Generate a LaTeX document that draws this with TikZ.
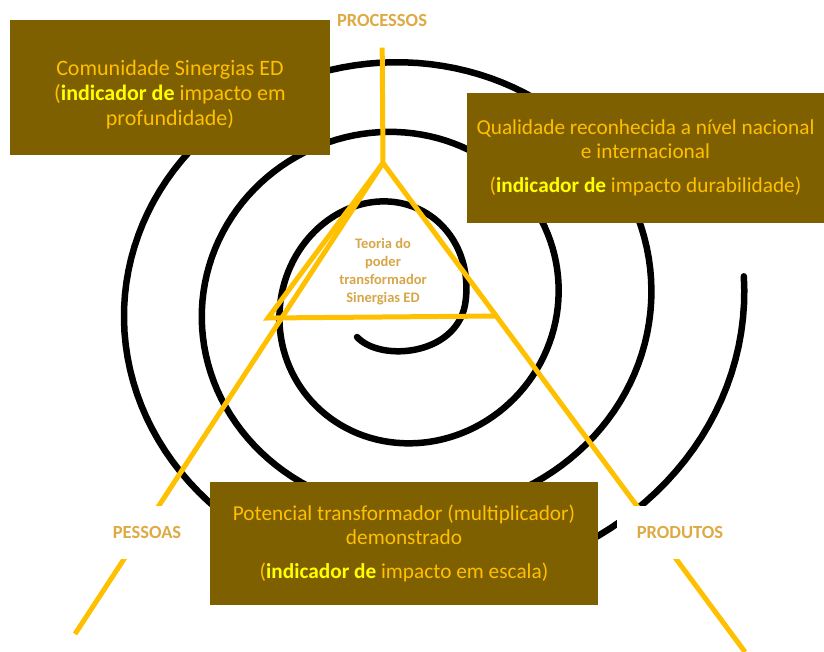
\documentclass[tikz,border=0pt]{standalone}
\usepackage{fontspec}
\setmainfont{Carlito}
\usepackage{tikz}

\definecolor{oliva}{RGB}{127,96,0}
\definecolor{ouro}{RGB}{255,192,0}
\definecolor{amarelo}{RGB}{255,255,0}
\definecolor{rotulocor}{RGB}{222,170,68}
\definecolor{teoriacor}{RGB}{214,166,72}
\newcommand{\indic}[1]{{\bfseries\color{amarelo}#1}}

\tikzset{
  caixa/.style={fill=oliva, text=ouro, align=center, inner sep=0pt,
    font=\fontsize{21.3}{23.5}\selectfont},
  rotulo/.style={fill=white, text=rotulocor, minimum height=53pt,
    inner xsep=5pt, font=\bfseries\fontsize{18.5}{22}\selectfont},
  eixo/.style={draw=ouro, line width=5pt},
  espiral/.style={draw=black, line width=6.5pt, line cap=round, line join=round},
}

\begin{document}
\begin{tikzpicture}[x=1pt,y=-1pt]
\useasboundingbox (0,0) rectangle (824,652);

\coordinate (apex) at (383,163);
\coordinate (baseL) at (268,318);
\coordinate (baseR) at (496,316);
\coordinate (endL) at (75,634);
\coordinate (endR) at (745,652);

% espiral
\path[espiral] (357,337) .. controls (380,362) and (455,356) .. (465,305)
  -- plot[domain=0:18.95, samples=400, variable=\t]
  ({392+1.2*\t+(73+13.6*\t)*cos(\t r)}, {305-(85.6+11.1*\t)*sin(\t r)});

% triangulo
\path[eixo] (baseR) -- (baseL) -- (apex) -- (endR);
\path[eixo] (apex) -- (endL);

\node[caixa, minimum width=320pt, minimum height=135pt,
  font=\fontsize{22}{25}\selectfont] (comunidade) at (170,87.5)
  {\rule{0pt}{29pt}Comunidade Sinergias ED\\[0pt] (\indic{indicador de} impacto em\\ profundidade)};
\node[caixa, minimum width=357pt, minimum height=130pt] (qualidade) at (645.5,158)
  {Qualidade reconhecida a nível nacional\\ e internacional\\[10.5pt]
   (\indic{indicador de} impacto durabilidade)};
\node[caixa, minimum width=388pt, minimum height=123pt] (potencial) at (404,543.5)
  {Potencial transformador (multiplicador)\\ demonstrado\\[10.5pt]
   (\indic{indicador de} impacto em escala)};

\node[text=teoriacor, align=center, font=\bfseries\fontsize{14.5}{18}\selectfont]
  (teoria) at (383,272) {Teoria do\\ poder\\ transformador\\ Sinergias ED};

\node[rotulo] (processos) at (382,21) {PROCESSOS};
\node[rotulo] (pessoas) at (147,532) {PESSOAS};
\node[rotulo, minimum width=126pt] (produtos) at (680,532) {PRODUTOS};

\path[eixo] (processos) -- (apex);
\end{tikzpicture}
\end{document}
